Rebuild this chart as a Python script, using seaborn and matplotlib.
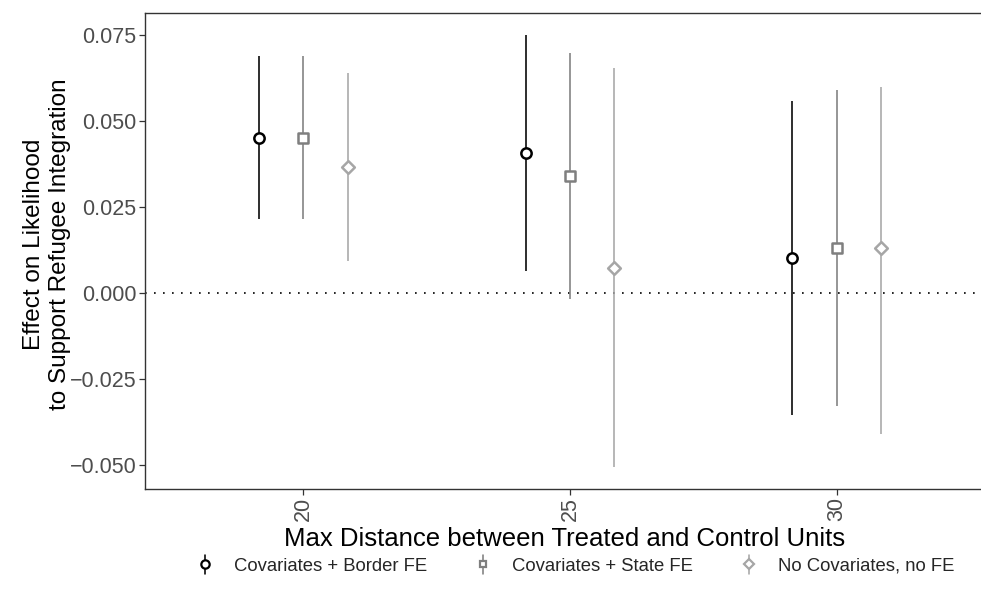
import matplotlib
matplotlib.use("Agg")
import matplotlib.pyplot as plt
from matplotlib.lines import Line2D
from matplotlib.legend_handler import HandlerLine2D
import seaborn as sns
import pandas as pd

# ---- data ----
distances = [20, 25, 30]
models = ["Covariates + Border FE", "Covariates + State FE", "No Covariates, no FE"]
est_border = [0.0451, 0.0406, 0.0103]
lo_border = [0.0214, 0.0063, -0.0356]
hi_border = [0.0690, 0.0750, 0.0559]
est_state = [0.0451, 0.0340, 0.0130]
lo_state = [0.0214, -0.0018, -0.0330]
hi_state = [0.0690, 0.0697, 0.0589]
est_none = [0.0365, 0.0073, 0.0130]
lo_none = [0.0093, -0.0506, -0.0409]
hi_none = [0.0639, 0.0653, 0.0600]
y_ticks = [-0.050, -0.025, 0.000, 0.025, 0.050, 0.075]
y_tick_labels = ["\u22120.050", "\u22120.025", "0.000", "0.025", "0.050", "0.075"]
x_ticks = [20, 25, 30]

rows = []
for m, e, lo, hi in zip(models, [est_border, est_state, est_none],
                        [lo_border, lo_state, lo_none], [hi_border, hi_state, hi_none]):
    for d, ee, l, h in zip(distances, e, lo, hi):
        rows.append(dict(model=m, distance=d, est=ee, lo=l, hi=h))
df = pd.DataFrame(rows)

dodge = {models[0]: -0.83, models[1]: 0.0, models[2]: 0.83}
df["xpos"] = df["distance"] + df["model"].map(dodge)

colors = {models[0]: "#000000", models[1]: "#7F7F7F", models[2]: "#A6A6A6"}
markers = {models[0]: "o", models[1]: "s", models[2]: "D"}
msizes = {models[0]: 55, models[1]: 45, models[2]: 42}

sns.set_theme(style="white")
plt.rcParams["font.family"] = ["Liberation Sans", "DejaVu Sans"]

fig = plt.figure(figsize=(9.81, 6.05), dpi=100)
ax = fig.add_axes([145 / 981, 1 - 489 / 605, 1.003 - 145 / 981, (489 - 13) / 605])

ax.axhline(0, color="black", linestyle=(0, (1, 4.4)), linewidth=1.2, zorder=1)

for m in models:
    sub = df[df["model"] == m]
    ax.vlines(sub["xpos"], sub["lo"], sub["hi"], color=colors[m], linewidth=1.15, zorder=2)

for m in models:
    sub = df[df["model"] == m]
    sns.scatterplot(data=sub, x="xpos", y="est", ax=ax, marker=markers[m],
                    s=msizes[m], facecolor="white", edgecolor=colors[m],
                    linewidth=1.8, zorder=3, legend=False)

ax.set_xlim(17.03, 32.76)
ax.set_ylim(-0.0570, 0.0814)
ax.set_xticks(x_ticks)
ax.set_xticklabels([str(t) for t in x_ticks], rotation=90)
ax.set_yticks(y_ticks)
ax.set_yticklabels(y_tick_labels)
ax.tick_params(axis="both", which="both", length=4, width=0.9, color="#333333",
               labelcolor="#4D4D4D", labelsize=15.5, direction="out", pad=2,
               bottom=True, left=True)
for s in ["left", "bottom", "top", "right"]:
    ax.spines[s].set_color("#333333")
    ax.spines[s].set_linewidth(1.0)

ax.set_xlabel("Max Distance between Treated and Control Units", fontsize=18.5,
              color="black", labelpad=4)
ax.set_ylabel("Effect on Likelihood\nto Support Refugee Integration", fontsize=17.5,
              color="black", linespacing=1.22)
ax.yaxis.set_label_coords(-0.088, 0.515)
ax.grid(False)

handles = []
for m in models:
    handles.append(Line2D([0], [0], color=colors[m], marker=markers[m],
                          markersize=6 if m == models[0] else 5,
                          markerfacecolor="white", markeredgecolor=colors[m],
                          markeredgewidth=1.6, linestyle="none"))


class VHandler(HandlerLine2D):
    def create_artists(self, legend, orig_handle, xdescent, ydescent, width, height, fontsize, trans):
        cx = width / 2 - xdescent
        line = Line2D([cx, cx], [-ydescent - 2, height - ydescent + 2], color=orig_handle.get_color(),
                      linewidth=1.15, transform=trans)
        mk = Line2D([cx], [height / 2 - ydescent], marker=orig_handle.get_marker(),
                    markersize=orig_handle.get_markersize(), markerfacecolor="white",
                    markeredgecolor=orig_handle.get_color(), markeredgewidth=1.6,
                    linestyle="none", transform=trans)
        return [line, mk]


fig.legend(handles, models, loc="center", bbox_to_anchor=(0.586, 0.064), ncol=3,
           frameon=False, fontsize=13.3, handler_map={Line2D: VHandler()},
           handlelength=1.0, handletextpad=1.08, columnspacing=2.52)

fig.savefig("out.png", dpi=100)
